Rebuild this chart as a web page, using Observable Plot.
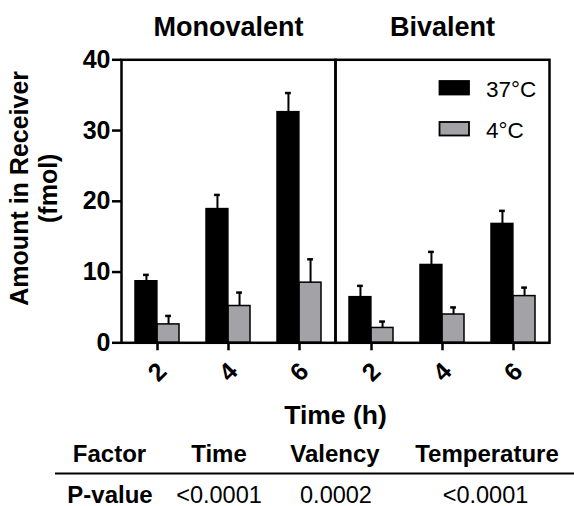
<!DOCTYPE html>
<html><head><meta charset="utf-8">
<script src="https://cdn.jsdelivr.net/npm/d3@7"></script>
<script src="https://cdn.jsdelivr.net/npm/@observablehq/plot@0.6"></script>
<style>
body{margin:0;background:#fff;}
#wrap{position:relative;width:574px;height:506px;}
svg{display:block;}
</style></head><body><div id="wrap"></div>
<script>
const valencies = ["Monovalent", "Bivalent"];
const times = [2, 4, 6];
const temps = ["37°C", "4°C"];
const mono37 = [8.7, 18.9, 32.6];
const mono37Err = [0.9, 2.0, 2.7];
const mono4 = [2.6, 5.2, 8.5];
const mono4Err = [1.2, 1.9, 3.3];
const bi37 = [6.45, 11.0, 16.8];
const bi37Err = [1.6, 1.85, 1.85];
const bi4 = [2.1, 4.0, 6.6];
const bi4Err = [0.9, 1.0, 1.2];
const yTicks = [0, 10, 20, 30, 40];
const yLabel = "Amount in Receiver\n(fmol)";
const xLabel = "Time (h)";
const tableHeader = ["Factor", "Time", "Valency", "Temperature"];
const tableRow = ["P-value", "<0.0001", "0.0002", "<0.0001"];

const FONT = '"Liberation Sans", Arial, Helvetica, sans-serif';
const GRAY = "#a2a2a7";

const series = [
  [valencies[0], temps[0], mono37, mono37Err],
  [valencies[0], temps[1], mono4, mono4Err],
  [valencies[1], temps[0], bi37, bi37Err],
  [valencies[1], temps[1], bi4, bi4Err]
];
const rows = [];
for (const [valency, temp, vals, errs] of series)
  times.forEach((t, i) => rows.push({valency, temp, time: t, value: vals[i], top: vals[i] + errs[i]}));
const hot = rows.filter(d => d.temp === temps[0]);
const cold = rows.filter(d => d.temp === temps[1]);
const tickRows = [];
for (const v of valencies) for (const t of times) tickRows.push({valency: v, time: t});

const W = 574, H = 435, ML = 121, MR = 25, MT = 59.3, MB = 92.7;
const padInner = 0.38;
const facetW = (W - ML - MR) / valencies.length;
const bw = facetW / times.length * (1 - padInner);
const half = bw / 2;
const capW = 6;
const capInset = (bw - capW) / 2;

const plot = Plot.plot({
  width: W, height: H,
  marginTop: MT, marginBottom: MB, marginLeft: ML, marginRight: MR,
  style: {fontFamily: FONT, color: "#000", background: "#fff", overflow: "visible"},
  fx: {domain: valencies, padding: 0, label: null, axis: null},
  x: {type: "band", domain: times, paddingInner: padInner, paddingOuter: padInner / 2, axis: null},
  y: {domain: [0, 40], axis: null},
  marks: [
    Plot.barY(hot, {fx: "valency", x: "time", y: "value", fill: "#000", stroke: "#000", strokeWidth: 1.5, insetRight: half}),
    Plot.barY(cold, {fx: "valency", x: "time", y: "value", fill: GRAY, stroke: "#000", strokeWidth: 1.5, insetLeft: half}),
    Plot.ruleX(hot, {fx: "valency", x: "time", y1: "value", y2: "top", dx: -half / 2, stroke: "#000", strokeWidth: 2}),
    Plot.ruleX(cold, {fx: "valency", x: "time", y1: "value", y2: "top", dx: half / 2, stroke: "#000", strokeWidth: 2}),
    Plot.tickY(hot, {fx: "valency", x: "time", y: "top", dx: -half / 2, insetLeft: capInset, insetRight: capInset, stroke: "#000", strokeWidth: 2.5}),
    Plot.tickY(cold, {fx: "valency", x: "time", y: "top", dx: half / 2, insetLeft: capInset, insetRight: capInset, stroke: "#000", strokeWidth: 2.5}),
    Plot.frame({stroke: "#000", strokeWidth: 2.5}),
    Plot.axisY({ticks: yTicks, tickSize: 9, tickPadding: 2, fontSize: 25, fontWeight: "bold", strokeWidth: 2.5, label: null}),
    Plot.axisX({tickSize: 8, tickFormat: () => "", strokeWidth: 2.5, label: null}),
    Plot.axisFx({anchor: "top", tickSize: 0, tickPadding: 24, fontSize: 27, fontWeight: "bold", label: null}),
    Plot.text(tickRows, {fx: "valency", x: "time", text: d => String(d.time), frameAnchor: "bottom", dy: 29.5, rotate: -45, textAnchor: "middle", lineAnchor: "middle", fontSize: 25, fontWeight: "bold", fill: "#000"}),
    Plot.text([xLabel], {fx: () => valencies[0], frameAnchor: "bottom-right", textAnchor: "middle", lineAnchor: "bottom", dy: 80.7, fontSize: 26.5, fontWeight: "bold", fill: "#000"}),
    Plot.text([yLabel], {fx: () => valencies[0], frameAnchor: "left", rotate: -90, textAnchor: "middle", lineAnchor: "middle", lineHeight: 1.16, dx: -88, dy: -13, fontSize: 25, fontWeight: "bold", fill: "#000"})
  ]
});
const wrap = document.getElementById("wrap");
wrap.appendChild(plot);

// legend inside Bivalent panel
const svg = d3.select(plot);
const lg = svg.append("g").attr("font-family", FONT).attr("font-size", 22.5).attr("text-anchor", "start");
const legendItems = [{label: temps[0], fill: "#000"}, {label: temps[1], fill: GRAY}];
legendItems.forEach((it, i) => {
  const y0 = 81 + i * 41;
  lg.append("rect").attr("x", 439.5).attr("y", y0).attr("width", 29.5).attr("height", 13.5)
    .attr("fill", it.fill).attr("stroke", "#000").attr("stroke-width", 1.8);
  lg.append("text").attr("x", 486).attr("y", y0 + 16).attr("text-anchor", "start").attr("fill", "#000").text(it.label);
});

// statistics table below the chart
const tbl = d3.select(wrap).append("svg").attr("width", W).attr("height", 506 - H)
  .attr("font-family", FONT).style("display", "block");
const headX = [109.5, 219, 335, 487];
const rowX = [110, 219, 336, 485.5];
tableHeader.forEach((t, i) => tbl.append("text").attr("x", headX[i]).attr("y", 27).attr("text-anchor", "middle")
  .attr("font-size", 24).attr("font-weight", "bold").attr("fill", "#000").text(t));
tbl.append("line").attr("x1", 55).attr("x2", 574).attr("y1", 38.5).attr("y2", 38.5).attr("stroke", "#000").attr("stroke-width", 2.2);
tableRow.forEach((t, i) => tbl.append("text").attr("x", rowX[i]).attr("y", 67.5).attr("text-anchor", "middle")
  .attr("font-size", i === 0 ? 24 : 23.5).attr("font-weight", i === 0 ? "bold" : "normal").attr("fill", "#000").text(t));
</script>
</body></html>
